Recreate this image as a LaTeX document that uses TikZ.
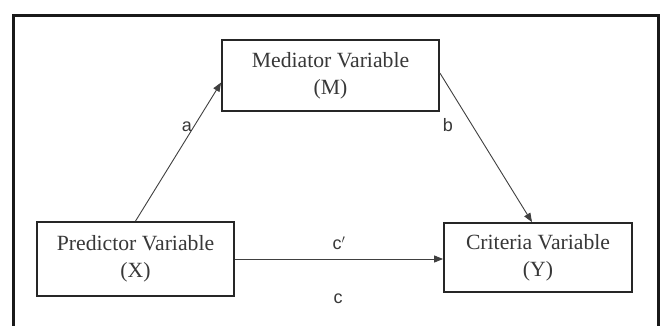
\documentclass[tikz,border=0pt]{standalone}
\usepackage{fontspec}
\setmainfont{Liberation Serif}
\newfontfamily\labfont{Liberation Sans}
\usetikzlibrary{arrows.meta}
\definecolor{txt}{gray}{0.22}
\begin{document}
\begin{tikzpicture}[x=1pt,y=-1pt,
  varbox/.style={draw=black!85,line width=1.8pt,align=center,text=txt,
    font=\fontsize{21.7}{27}\selectfont,inner sep=0pt},
  link/.style={draw=black!75,line width=0.9pt,-{Triangle[length=9pt,width=7pt]}},
  lab/.style={text=txt,font=\labfont\fontsize{18}{20}\selectfont,inner sep=0pt}]
\useasboundingbox (0,0) rectangle (665,325);
\fill[white] (0,0) rectangle (665,325);
\draw[line width=3pt,black!90] (13,340) -- (13,15) -- (658,15) -- (658,340);
\node[varbox,minimum width=217pt,minimum height=71pt] (M) at (330.5,75.5) {Mediator Variable\\(M)};
\node[varbox,minimum width=197pt,minimum height=74pt] (X) at (135.5,259) {Predictor Variable\\(X)};
\node[varbox,minimum width=188pt,minimum height=69pt] (Y) at (538,257.5) {Criteria Variable\\(Y)};
\coordinate (ma) at ([yshift=-7pt]M.west);
\coordinate (mb) at ([yshift=2.5pt]M.east);
\coordinate (yb) at ([xshift=-6pt]Y.north);
\draw[link] (X.north) -- (ma);
\draw[link] (mb) -- (yb);
\draw[link] (X.east) -- (X.east -| Y.west);
\node[lab] (la) at (187,127) {a};
\node[lab] (lb) at (448,125) {b};
\node[lab] (lc1) at (339,243) {c$'$};
\node[lab] (lc) at (338,299) {c};
\end{tikzpicture}
\end{document}
